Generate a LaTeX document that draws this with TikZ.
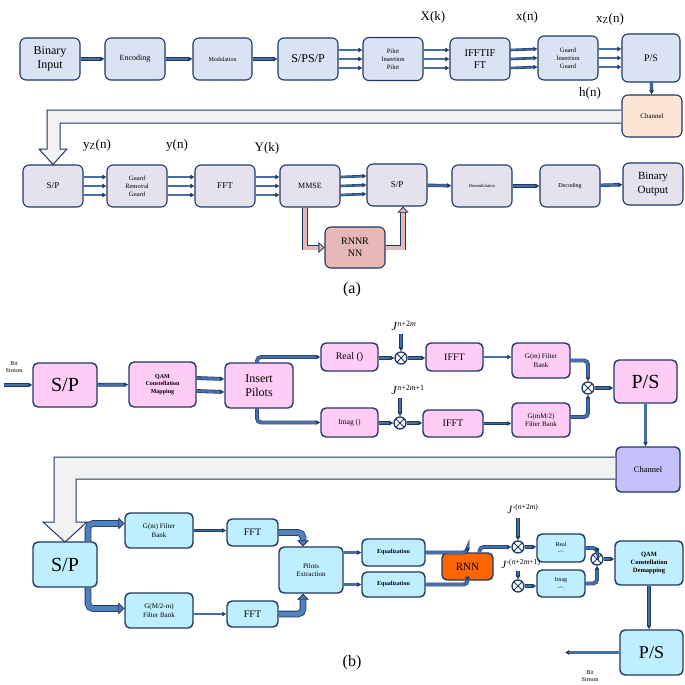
\documentclass[tikz,border=0pt]{standalone}
\usepackage{fontspec}
\setmainfont{Liberation Serif}
\usetikzlibrary{arrows.meta,positioning}

\definecolor{navy}{RGB}{31,56,100}
\definecolor{steel}{RGB}{72,110,168}
\definecolor{steelb}{RGB}{79,129,189}
\definecolor{blueA}{RGB}{218,227,243}
\definecolor{lavA}{RGB}{229,225,237}
\definecolor{peach}{RGB}{252,229,212}
\definecolor{rose}{RGB}{230,184,183}
\definecolor{pinkB}{RGB}{255,204,245}
\definecolor{cyanB}{RGB}{191,238,255}
\definecolor{violB}{RGB}{197,192,250}
\definecolor{orangeB}{RGB}{255,102,0}
\definecolor{bandgray}{RGB}{242,242,242}

\tikzset{
  fs/.style={font=\fontsize{#1}{\fpeval{1.2*#1}}\selectfont},
  fsb/.style={font=\fontsize{#1}{\fpeval{1.2*#1}}\selectfont\bfseries}
}

\begin{document}
\begin{tikzpicture}[
  x=1pt,y=-1pt,
  box/.style={draw=navy,line width=1.1pt,rounded corners=6pt,align=center,
    inner sep=1pt,minimum width=60pt,minimum height=42pt},
  boxb/.style={box,line width=1.4pt,rounded corners=5pt},
  link/.style={draw=navy,line width=0.6pt,double=steel,double distance=1.4pt,
    -{Latex[length=4pt,width=5pt]}},
  linkw/.style={link,double distance=2.2pt},
  linkm/.style={link,double distance=2.6pt,rounded corners=4pt},
  thick arrow/.style={draw=navy,line width=0.8pt,double=steelb,double distance=5pt,
    rounded corners=5pt,-{Triangle[length=6pt,width=12pt,fill=steelb]}},
  rose arrow/.style={draw=navy,line width=0.8pt,double=rose,double distance=4pt,
    -{Triangle[length=6pt,width=11pt,fill=rose]}},
  band/.style={draw=navy,line width=1pt,fill=bandgray},
  mult/.style={circle,draw=navy,fill=white,line width=1.3pt,minimum size=12pt,inner sep=0pt,
    path picture={\draw[navy,line width=1pt]
      (path picture bounding box.north west) -- (path picture bounding box.south east)
      (path picture bounding box.north east) -- (path picture bounding box.south west);}},
  sig/.style={fs=13}
]
\fill[white] (0,0) rectangle (685,685);
\useasboundingbox (0,0) rectangle (685,685);

% (a) transmitter row
\node[box,fill=blueA,fs=12] (binIn) at (50,59) {Binary\\Input};
\node[box,fill=blueA,fs=8] (enc) at (135,59) {Encoding};
\node[box,fill=blueA,fs=6,minimum width=59pt] (modu) at (222.5,59) {Modulation};
\node[box,fill=blueA,fs=12] (spA) at (308,59) {S/PS/P};
\node[box,fill=blueA,fs=6.5,minimum height=43pt] (pilot) at (393,59) {Pilot\\Insertion\\Pilot};
\node[box,fill=blueA,fs=10.5] (ifft) at (480,59) {IFFTIF\\FT};
\node[box,fill=blueA,fs=6.5,minimum height=44pt] (guard) at (568,58) {Guard\\Insertion\\Guard};
\node[box,fill=blueA,fs=10,minimum width=58pt,minimum height=48pt] (psA) at (651,58) {P/S};
\node[box,fill=peach,fs=7] (chA) at (652,116) {Channel};

\node[sig] (xk) at (433,17) {X(k)};
\node[sig] (xn) at (527,17) {x(n)};
\node[sig] (xzn) at (610,19) {x\textsubscript{Z}(n)};
\node[sig] (hn) at (590,93) {h(n)};

\draw[linkw] (binIn) -- (enc);
\draw[linkw] (enc) -- (modu);
\draw[linkw] (modu) -- (spA);
\foreach \a/\b in {spA/pilot,pilot/ifft,ifft/guard,guard/psA}
  \foreach \d in {-9,0,9}
    \draw[link] ([yshift=\d pt]\a.east) -- ([yshift=\d pt]\b.west);
\draw[linkw] (psA) -- (chA);

% (a) receiver row
\node[box,fill=lavA,fs=9] (spB) at (53,186) {S/P};
\node[box,fill=lavA,fs=6.5] (grem) at (137,186) {Guard\\Removal\\Guard};
\node[box,fill=lavA,fs=9] (fftA) at (225,186) {FFT};
\node[box,fill=lavA,fs=8] (mmse) at (310,186) {MMSE};
\node[box,fill=lavA,fs=9] (spC) at (397,185) {S/P};
\node[box,fill=lavA,fs=4.5] (demod) at (482,186) {Demodulation};
\node[box,fill=lavA,fs=6] (dec) at (570,186) {Decoding};
\node[box,fill=lavA,fs=11] (binOut) at (653,184) {Binary\\Output};
\node[box,fill=rose,fs=10,minimum height=41pt] (rnnA) at (355,247.5) {RNNR\\NN};

\node[sig] (yzn) at (97,145) {y\textsubscript{Z}(n)};
\node[sig] (yn) at (177,145) {y(n)};
\node[sig] (yk) at (267,148) {Y(k)};

\draw[band] (chA.west |- 0,110) -- (47,110) -- (47,149) -- (39,149) -- (spB.north)
  -- (67,149) -- (60,149) -- (60,123) -- (chA.west |- 0,123);

\foreach \a/\b in {spB/grem,grem/fftA,fftA/mmse,mmse/spC}
  \foreach \d in {-9,0,9}
    \draw[link] ([yshift=\d pt]\a.east) -- ([yshift=\d pt]\b.west);
\draw[linkw] (spC) -- (demod);
\draw[linkw] (demod) -- (dec);
\draw[linkw] (dec) -- (binOut);
\draw[rose arrow] ([xshift=-5pt]mmse.south) |- (rnnA.west);
\draw[rose arrow] (rnnA.east) -| ([xshift=6pt]spC.south);

\node[fs=16] (capA) at (352,290) {(a)};

% (b) transmitter
\node[fs=6,align=center] (bsIn) at (14,367) {Bit\\Stream};
\coordinate (bsInEnd) at (4,385);
\node[boxb,fill=pinkB,fs=20,minimum width=64pt,minimum height=44pt] (spD) at (65,385) {S/P};
\node[boxb,fill=pinkB,fsb=6,minimum width=67pt,minimum height=45pt] (qamM) at (162.5,384.5)
  {QAM\\Constellation\\Mapping};
\node[boxb,fill=pinkB,fs=12,minimum width=68pt,minimum height=45pt] (insP) at (259,385.5) {Insert\\Pilots};
\node[boxb,fill=pinkB,fs=10,minimum width=57pt,minimum height=28pt] (realA) at (349.5,357) {Real ()};
\node[boxb,fill=pinkB,fs=7.5,minimum width=57pt,minimum height=29pt] (imagA) at (349.5,422.5) {Imag ()};
\node[mult] (mulR) at (401,358) {};
\node[mult] (mulI) at (400,423) {};
\node[boxb,fill=pinkB,fs=10,minimum width=57pt,minimum height=28pt] (ifftR) at (454.5,357) {IFFT};
\node[boxb,fill=pinkB,fs=10,minimum width=60pt,minimum height=27pt] (ifftI) at (453,423.5) {IFFT};
\node[boxb,fill=pinkB,fs=7,minimum width=58pt,minimum height=35pt] (gmR) at (541,360.5) {G(m) Filter\\Bank};
\node[boxb,fill=pinkB,fs=7,minimum width=58pt,minimum height=34pt] (gmI) at (541,420) {G(mM/2)\\Filter Bank};
\node[mult] (sumT) at (588,388) {};
\node[boxb,fill=pinkB,fs=20,minimum width=63pt,minimum height=43pt] (psD) at (645.5,381.5) {P/S};
\node[boxb,fill=violB,fs=8.5,minimum width=64pt,minimum height=45pt] (chB) at (648,469.5) {Channel};

\node[fs=12] (jR) at (404,326) {\textit{J}\textsuperscript{\textit{n}+2\textit{m}}};
\node[fs=12] (jI) at (408,390) {\textit{J}\textsuperscript{\textit{n}+2\textit{m}+1}};
\coordinate (jRin) at (401,334);
\coordinate (jIin) at (400,398);

\draw[linkm] (bsInEnd) -- (spD);
\draw[linkm] (spD) -- (qamM);
\draw[linkm] ([yshift=6.5pt]qamM.east) -- ([yshift=6.5pt]insP.west);
\draw[linkm] ([yshift=-6.5pt]qamM.east) -- ([yshift=-6.5pt]insP.west);
\draw[linkm] ([xshift=-2pt]insP.north) |- (realA.west);
\draw[linkm] ([xshift=-2pt]insP.south) |- (imagA.west);
\draw[linkm] (realA.east |- mulR) -- (mulR);
\draw[linkm] (imagA.east |- mulI) -- (mulI);
\draw[linkm] (jRin) -- (mulR);
\draw[linkm] (jIin) -- (mulI);
\draw[linkm] (mulR) -- (mulR -| ifftR.west);
\draw[linkm] (mulI) -- (mulI -| ifftI.west);
\draw[link] (ifftR.east) -- (ifftR.east -| gmR.west);
\draw[link] (ifftI.east) -- (ifftI.east -| gmI.west);
\draw[linkm] (gmR.east) -| (sumT.north);
\draw[linkm] ([yshift=3pt]gmI.east) -| (sumT.south);
\draw[linkm] (sumT) -- (sumT -| psD.west);
\draw[linkm] (psD) -- (psD |- chB.north);

% (b) receiver
\draw[band] (chB.west |- 0,457) -- (54,457) -- (54,522) -- (43,522) -- (65,542)
  -- (87,522) -- (76,522) -- (76,479) -- (chB.west |- 0,479);

\node[boxb,fill=cyanB,fs=20,minimum width=64pt,minimum height=45pt] (spE) at (65,564.5) {S/P};
\node[boxb,fill=cyanB,fs=7,minimum width=68pt,minimum height=35pt] (gmB) at (159,530.5) {G(m) Filter\\Bank};
\node[boxb,fill=cyanB,fs=10,minimum width=51pt,minimum height=27pt] (fftB) at (252.5,532.5) {FFT};
\node[boxb,fill=cyanB,fs=7,minimum width=68pt,minimum height=35pt] (gmC) at (159,610.5) {G(M/2-m)\\Filter Bank};
\node[boxb,fill=cyanB,fs=10,minimum width=51pt,minimum height=26pt] (fftC) at (252.5,614) {FFT};
\node[boxb,fill=cyanB,fs=7,minimum width=64pt,minimum height=46pt] (pilE) at (311,570) {Pilots\\Extraction};
\node[boxb,fill=cyanB,fsb=6,minimum width=63pt,minimum height=27pt] (eqA) at (393.5,552.5) {Equalization};
\node[boxb,fill=cyanB,fsb=6,minimum width=63pt,minimum height=25pt] (eqB) at (393.5,584.5) {Equalization};
\node[boxb,fill=orangeB,fs=11,minimum width=51pt,minimum height=27pt] (rnnB) at (467.5,566.5) {RNN};
\node[mult] (mulA) at (518,547) {};
\node[mult] (mulB) at (518,586) {};
\node[boxb,fill=cyanB,fs=6,minimum width=48pt,minimum height=28pt] (realB) at (561,548) {Real\\$\frown$};
\node[boxb,fill=cyanB,fs=6,minimum width=48pt,minimum height=27pt] (imagB) at (561,583.5) {Imag\\$\frown$};
\node[mult] (sumR) at (597,559) {};
\node[boxb,fill=cyanB,fsb=6.5,minimum width=68pt,minimum height=44pt] (qamD) at (649,563)
  {QAM\\Constellation\\Demapping};
\node[boxb,fill=cyanB,fs=18,minimum width=63pt,minimum height=45pt] (psE) at (651.5,652.5) {P/S};

\node[fs=11] (jA) at (523,509) {\textit{J}\textsuperscript{-(\textit{n}+2\textit{m})}};
\node[fs=11] (jB) at (521,564) {\textit{J}\textsuperscript{-(\textit{n}+2\textit{m}+1)}};
\coordinate (jAin) at (518,518);
\coordinate (jBin) at (518,571);
\node[fs=6,align=center] (bsOut) at (590,676) {Bit\\Stream};
\coordinate (bsOutEnd) at (565,652.5);

\draw[thick arrow] ([xshift=23pt]spE.north) |- ([yshift=7pt]gmB.west);
\draw[thick arrow] ([xshift=23pt]spE.south) |- ([yshift=2pt]gmC.west);
\draw[link] (gmB.east) -- (gmB.east -| fftB.west);
\draw[link] (fftC.west -| gmC.east) -- (fftC.west);
\draw[thick arrow] (fftB.east) -| ([xshift=-8pt]pilE.north);
\draw[thick arrow] (fftC.east) -| ([xshift=-8pt]pilE.south);
\draw[linkm] (pilE.east |- eqA.west) -- (eqA.west);
\draw[linkm] (pilE.east |- eqB.west) -- (eqB.west);
\draw[linkm] (eqA.east) -| (rnnB.north);
\draw[linkm] (eqB.east) -| (rnnB.south);
\draw[linkm] ([xshift=12pt]rnnB.north) |- (mulA.west);
\draw[linkm] (jAin) -- (mulA);
\draw[linkm] (jBin) -- (mulB);
\draw[linkm] (mulA) -- (mulA -| realB.west);
\draw[linkm] (mulB) -- (mulB -| imagB.west);
\draw[linkm] (realB.east) -| (sumR.north);
\draw[linkm] (imagB.east) -| (sumR.south);
\draw[linkm] (sumR) -- (sumR -| qamD.west);
\draw[linkm] (qamD.south) -- (qamD.south |- psE.north);
\draw[linkm] (psE.west) -- (bsOutEnd);

\node[fs=16] (capB) at (352,663) {(b)};
\end{tikzpicture}
\end{document}
